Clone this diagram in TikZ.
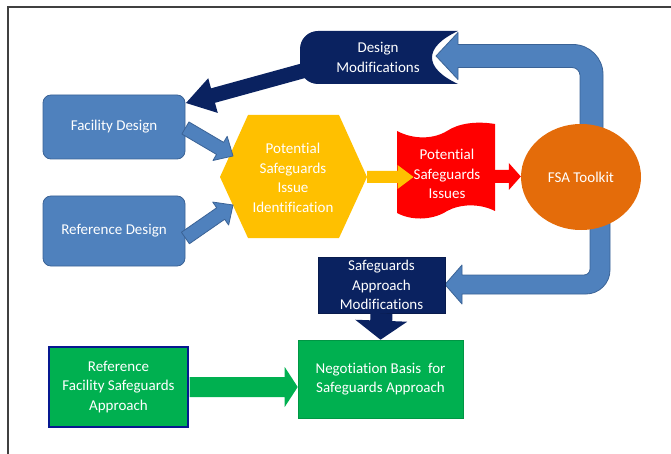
\documentclass[tikz,border=0pt]{standalone}
\usepackage{fontspec}
\setmainfont[Ligatures=NoCommon]{Carlito}
\usetikzlibrary{calc,shapes.geometric}

\definecolor{boxblue}{HTML}{4F81BD}
\definecolor{boxblueline}{HTML}{3B6396}
\definecolor{navy}{HTML}{0A2260}
\definecolor{gold}{HTML}{FFC000}
\definecolor{tapered}{HTML}{FF0000}
\definecolor{toolorange}{HTML}{E46C0A}
\definecolor{okgreen}{HTML}{00B050}
\definecolor{framegray}{HTML}{404040}

% straight block arrow: style, start, tip, half shaft width, half head width, head length
\newcommand\fatarrow[6]{%
  \coordinate (fa-s) at (#2);
  \coordinate (fa-t) at (#3);
  \coordinate (fa-b) at ($(fa-t)!#6!(fa-s)$);
  \path[#1] ($(fa-s)!#4!90:(fa-t)$) -- ($(fa-b)!#4!-90:(fa-s)$)
    -- ($(fa-b)!#5!-90:(fa-s)$) -- (fa-t) -- ($(fa-b)!#5!90:(fa-s)$)
    -- ($(fa-b)!#4!90:(fa-s)$) -- ($(fa-s)!#4!-90:(fa-t)$) -- cycle;
}

\begin{document}
\begin{tikzpicture}[x=1pt,y=-1pt,
  lbl/.style={text=white, font=\fontsize{15}{19.5}\selectfont, align=center, inner sep=0pt},
  bluebox/.style={lbl, rectangle, rounded corners=8pt, fill=boxblue, draw=boxblueline, line width=0.8pt},
  navybox/.style={lbl, rectangle, fill=navy, draw=navy!80!black, line width=0.6pt},
  greenbox/.style={lbl, rectangle, fill=okgreen, draw=okgreen!85!black, line width=0.6pt},
  bluearrow/.style={fill=boxblue, draw=boxblueline, line width=0.8pt, line join=round},
]
\useasboundingbox (0,0) rectangle (671,454);

% page frame
\draw[framegray, line width=1.2pt] (671,7) -- (8,7) -- (8,454);

% return loops out of the toolkit
\path[bluearrow] (580,150) -- (580,75.5) .. controls (580,71.1) and (576.4,67.5) .. (572,67.5)
  -- (458,67.5) -- (458,79.5) -- (436,56) -- (458,32.5) -- (458,44.5) -- (573,44.5)
  .. controls (589.6,44.5) and (603,57.9) .. (603,74.5) -- (603,150) -- cycle;
\path[bluearrow] (590,200) -- (590,269) .. controls (590,272.3) and (587.3,275) .. (584,275)
  -- (462,275) -- (462,265) -- (445,284.5) -- (462,304) -- (462,294) -- (586,294)
  .. controls (599.2,294) and (610,283.2) .. (610,270) -- (610,200) -- cycle;

% design modifications tab with concave right side
\fill[navy] (458,31) -- (318,31) .. controls (308,31) and (300,39) .. (300,49) -- (300,66)
  .. controls (300,76) and (308,84) .. (318,84) -- (458,84)
  .. controls (441,76) and (432,67) .. (432,57.5) .. controls (432,48) and (441,39) .. (458,31) -- cycle;
\node[lbl] (des) at (378,57.5) {Design\\Modifications};

% inputs
\node[bluebox, minimum width=142pt, minimum height=64pt] (fac) at (114,127) {Facility Design};
\node[bluebox, minimum width=142pt, minimum height=70pt] (ref) at (114,231) {Reference Design};

% issue identification hexagon
\fill[gold] (220,177) -- (248,115) -- (339,115) -- (367,177) -- (339,238) -- (248,238) -- cycle;
\node[lbl] (hexn) at (293,178) {Potential\\Safeguards\\Issue\\Identification};

% issues list (punched tape)
\fill[tapered] (397,131) .. controls (414,140) and (434,139) .. (447,131)
  .. controls (459,123) and (477,121) .. (495,124) -- (495,211)
  .. controls (479,203) and (460,204) .. (447,211)
  .. controls (435,219) and (414,222) .. (397,213) -- cycle;
\node[lbl] (issues) at (447,174) {Potential\\Safeguards\\Issues};

% toolkit
\node[lbl, ellipse, fill=toolorange, minimum width=120pt, minimum height=106pt] (fsa) at (581,177) {FSA Toolkit};

% approach boxes
\node[navybox, minimum width=127pt, minimum height=56pt] (sam) at (381.5,285) {Safeguards\\Approach\\Modifications};
\node[greenbox, minimum width=165pt, minimum height=78pt] (neg) at (380.5,379) {Negotiation Basis\ \ for\\Safeguards Approach};
\node[lbl, rectangle, fill=okgreen, draw=navy!70!blue, line width=1.5pt, minimum width=139pt, minimum height=80pt] (rfa) at (118.5,387) {Reference\\Facility Safeguards\\Approach};

% connector end points
\coordinate (hexin1) at (233,156);
\coordinate (hexin2) at (233,205);
\coordinate (factip) at (186,103);
\coordinate (desout) at (306,70);

% block arrows
\fatarrow{fill=navy}{desout}{factip}{7.5pt}{18pt}{28pt}
\fatarrow{bluearrow}{$(fac.east)+(0,1)$}{hexin1}{7pt}{14pt}{15pt}
\fatarrow{bluearrow}{$(ref.east)+(0,7)$}{hexin2}{7pt}{14pt}{15pt}
\fatarrow{fill=gold}{367,177}{issues.west |- 0,177}{6pt}{12pt}{16pt}
\fatarrow{fill=tapered}{495,176.5}{fsa.west |- 0,176.5}{6.5pt}{13.5pt}{12pt}
\fatarrow{fill=navy}{sam.south}{neg.north}{11pt}{26pt}{19pt}
\fatarrow{fill=okgreen}{$(rfa.east)+(0.75,0)$}{neg.west |- rfa.east}{10pt}{20pt}{13pt}
\end{tikzpicture}
\end{document}
